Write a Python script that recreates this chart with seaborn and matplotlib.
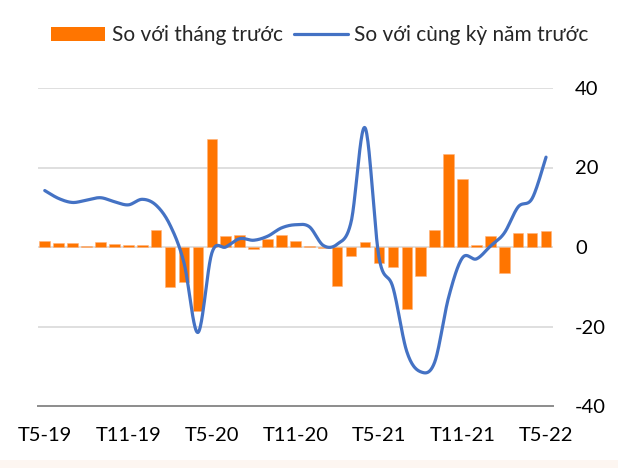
import numpy as np
import pandas as pd
import matplotlib
matplotlib.use("Agg")
import matplotlib.pyplot as plt
from matplotlib.patches import Patch, Rectangle
from matplotlib.lines import Line2D
import seaborn as sns

# ---- data ----
months = ["T5-19", "T6-19", "T7-19", "T8-19", "T9-19", "T10-19", "T11-19", "T12-19",
          "T1-20", "T2-20", "T3-20", "T4-20", "T5-20", "T6-20", "T7-20", "T8-20",
          "T9-20", "T10-20", "T11-20", "T12-20", "T1-21", "T2-21", "T3-21", "T4-21",
          "T5-21", "T6-21", "T7-21", "T8-21", "T9-21", "T10-21", "T11-21", "T12-21",
          "T1-22", "T2-22", "T3-22", "T4-22", "T5-22"]
mom = [1.5, 1.0, 1.0, 0.2, 1.3, 0.8, 0.6, 0.6, 4.3, -10.0, -8.9, -16.0, 27.1,
       2.7, 3.1, -0.5, 1.9, 2.9, 1.5, 0.2, -0.3, -9.7, -2.3, 1.3, -4.1, -5.1,
       -15.6, -7.4, 4.3, 23.3, 17.0, 0.4, 2.7, -6.6, 3.6, 3.4, 4.1]
yoy = [14.2, 12.2, 11.2, 11.8, 12.4, 11.4, 10.6, 12.0, 10.5, 5.5, -4.0, -21.5, -1.5,
       0.0, 2.1, 1.7, 2.7, 4.8, 5.6, 5.1, 0.4, 0.7, 6.3, 30.0, -2.5, -10.1,
       -26.3, -31.4, -29.0, -12.7, -2.7, -3.0, 0.2, 3.5, 10.1, 12.2, 22.6]
tick_labels = ["T5-19", "T11-19", "T5-20", "T11-20", "T5-21", "T11-21", "T5-22"]
y_ticks = [-40, -20, 0, 20, 40]
legend_labels = ["So với tháng trước", "So với cùng kỳ năm trước"]

ORANGE = "#FF7500"
BLUE = "#4472C4"
FONT = ["Lato", "DejaVu Sans"]


def smooth_curve(xs, ys, n=24):
    """Excel-like smoothed line (Bezier through the points)."""
    pts = np.column_stack([xs, ys]).astype(float)
    m = len(pts)
    out = []
    for k in range(m - 1):
        p0 = pts[max(k - 1, 0)]
        p1 = pts[k]
        p2 = pts[k + 1]
        p3 = pts[min(k + 2, m - 1)]
        c1 = p1 + (p2 - p0) / 6.0
        c2 = p2 - (p3 - p1) / 6.0
        t = np.linspace(0, 1, n, endpoint=(k == m - 2))[:, None]
        seg = ((1 - t) ** 3) * p1 + 3 * ((1 - t) ** 2) * t * c1 + 3 * (1 - t) * t ** 2 * c2 + t ** 3 * p2
        out.append(seg)
    out = np.vstack(out)
    return out[:, 0], out[:, 1]


sns.set_theme(style="white")
plt.rcParams["font.family"] = FONT

fig = plt.figure(figsize=(6.18, 4.68), dpi=100)
fig.patch.set_facecolor("white")
fig.add_artist(Rectangle((0, 0), 1, 8 / 468, transform=fig.transFigure,
                         facecolor="#FDF6F1", edgecolor="none", zorder=0))

ax = fig.add_axes([37.8 / 618, 62 / 468, 515.2 / 618, 318 / 468])
ax.set_facecolor("white")

df = pd.DataFrame({"month": months, "mom": mom})
sns.barplot(data=df, x="month", y="mom", color=ORANGE, saturation=1,
            width=0.76, errorbar=None, ax=ax, zorder=2,
            edgecolor="#FFB27A", linewidth=0.4)

xs = np.arange(len(months))
sx, sy = smooth_curve(xs, yoy)
ax.plot(sx, sy, color=BLUE, lw=2.3, solid_capstyle="round", zorder=3)

ax.set_xlim(-0.5, len(months) - 0.5)
ax.set_ylim(-40, 40)

# gridlines
for yv in [-20, 0, 20, 40]:
    ax.axhline(yv, color="#D9D9D9", lw=1.2, zorder=1)

# spines
for s in ["top", "left", "right"]:
    ax.spines[s].set_visible(False)
ax.spines["bottom"].set_color("#8C8C8C")
ax.spines["bottom"].set_linewidth(1.4)

# x ticks: marks at boundaries, labels at centers
ax.set_xticks(np.arange(-0.5, len(months) - 1, 6))
ax.set_xticklabels([])
ax.set_xticks(np.arange(0, len(months), 6), minor=True)
ax.set_xticklabels(tick_labels, minor=True)
ax.tick_params(axis="x", which="major", length=5, width=1.1, color="#8C8C8C", direction="out")
ax.tick_params(axis="x", which="minor", length=0, pad=15, labelsize=14.5, labelcolor="#000000")
ax.set_xlabel("")
ax.set_ylabel("")

# y axis on right
ax.yaxis.tick_right()
ax.set_yticks(y_ticks)
ax.set_yticklabels([str(v) for v in y_ticks])
ax.tick_params(axis="y", length=0, pad=16, labelsize=14.5, labelcolor="#000000")

handles = [Patch(facecolor=ORANGE, edgecolor="none"),
           Line2D([0], [0], color=BLUE, lw=2.3)]
fig.legend(handles, legend_labels, loc="center", bbox_to_anchor=(320 / 618, 1 - 35 / 468),
           ncol=2, frameon=False, fontsize=15, handlelength=2.6, handleheight=0.65,
           handletextpad=0.3, columnspacing=0.55, borderaxespad=0)

fig.savefig("out.png", dpi=100, facecolor="white")
